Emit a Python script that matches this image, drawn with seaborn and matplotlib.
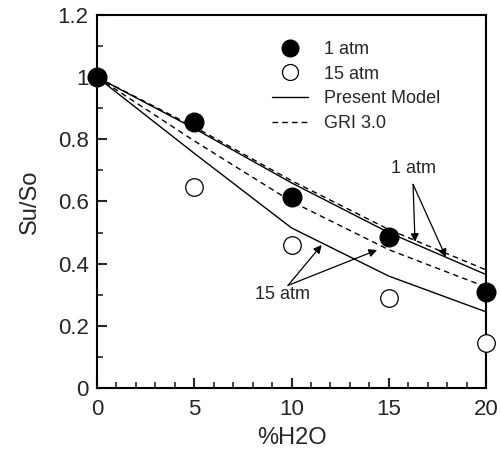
import matplotlib
matplotlib.use("Agg")
import matplotlib.pyplot as plt
from matplotlib.ticker import MultipleLocator, FuncFormatter
from matplotlib.lines import Line2D
import seaborn as sns

# data
h2o = [0, 5, 10, 15, 20]
exp_1atm = [1.0, 0.855, 0.615, 0.485, 0.31]
exp_15atm_x = [5, 10, 15, 20]
exp_15atm = [0.645, 0.46, 0.29, 0.145]
model_1atm = [1.0, 0.835, 0.66, 0.50, 0.365]
gri_1atm = [1.0, 0.84, 0.667, 0.51, 0.38]
model_15atm = [1.0, 0.755, 0.515, 0.36, 0.245]
gri_15atm = [1.0, 0.795, 0.60, 0.445, 0.325]

sns.set_style("ticks")
plt.rcParams['font.family'] = ['Liberation Sans', 'DejaVu Sans']

fig = plt.figure(figsize=(5, 4.54), dpi=100)
ax = fig.add_axes([0.194, 0.1454, 0.778, 0.8216])

lw = 1.0
for y, ls in [(model_1atm, '-'), (gri_1atm, '--'), (model_15atm, '-'), (gri_15atm, '--')]:
    sns.lineplot(x=h2o, y=y, ax=ax, color='black', linewidth=lw, legend=False)
    if ls == '--':
        ax.lines[-1].set_linestyle((0, (4, 3)))

sns.scatterplot(x=h2o, y=exp_1atm, ax=ax, s=180, color='black', edgecolor='black',
                linewidth=1, zorder=5, clip_on=False, legend=False)
sns.scatterplot(x=exp_15atm_x, y=exp_15atm, ax=ax, s=160, facecolor='white',
                edgecolor='black', linewidth=0.9, zorder=5, clip_on=False, legend=False)

ax.set_xlim(0, 20)
ax.set_ylim(0, 1.2)
ax.xaxis.set_major_locator(MultipleLocator(5))
ax.xaxis.set_minor_locator(MultipleLocator(1))
ax.yaxis.set_major_locator(MultipleLocator(0.2))
ax.yaxis.set_minor_locator(MultipleLocator(0.1))
ax.yaxis.set_major_formatter(FuncFormatter(lambda v, p: ('%g' % round(v, 2))))
ax.tick_params(which='major', direction='in', length=7, width=1.5, labelsize=16,
               top=False, right=False, pad=6)
ax.tick_params(axis='x', which='major', pad=8)
ax.tick_params(which='minor', direction='in', length=4, width=1.2, top=False, right=False)
for s in ax.spines.values():
    s.set_linewidth(1.5)
    s.set_color('black')

ax.set_xlabel('%H2O', fontsize=17, labelpad=5)
ax.set_ylabel('Su/So', fontsize=17, labelpad=12)

handles = [
    Line2D([], [], marker='o', color='black', linestyle='none', markersize=12),
    Line2D([], [], marker='o', markerfacecolor='white', markeredgecolor='black',
           linestyle='none', markersize=11.5, markeredgewidth=0.9),
    Line2D([], [], color='black', linestyle='-', linewidth=1),
    Line2D([], [], color='black', linestyle=(0, (4, 3)), linewidth=1),
]
ax.legend(handles, ['1 atm', '15 atm', 'Present Model', 'GRI 3.0'],
          loc='upper left', bbox_to_anchor=(0.45, 0.93), frameon=False,
          fontsize=13, handlelength=2.0, handletextpad=0.9, labelspacing=0.42,
          borderpad=0, borderaxespad=0)

aprops = dict(arrowstyle='-|>', color='black', lw=0.9, mutation_scale=12, shrinkA=0, shrinkB=0)
ax.text(16.25, 0.705, '1 atm', ha='center', va='center', fontsize=13)
ax.annotate('', xy=(16.35, 0.47), xytext=(16.25, 0.655), arrowprops=aprops)
ax.annotate('', xy=(17.94, 0.421), xytext=(16.25, 0.655), arrowprops=aprops)
ax.text(9.56, 0.30, '15 atm', ha='center', va='center', fontsize=13)
ax.annotate('', xy=(11.55, 0.46), xytext=(9.82, 0.33), arrowprops=aprops)
ax.annotate('', xy=(14.4, 0.444), xytext=(9.82, 0.33), arrowprops=aprops)

fig.savefig('out.png', dpi=100)
